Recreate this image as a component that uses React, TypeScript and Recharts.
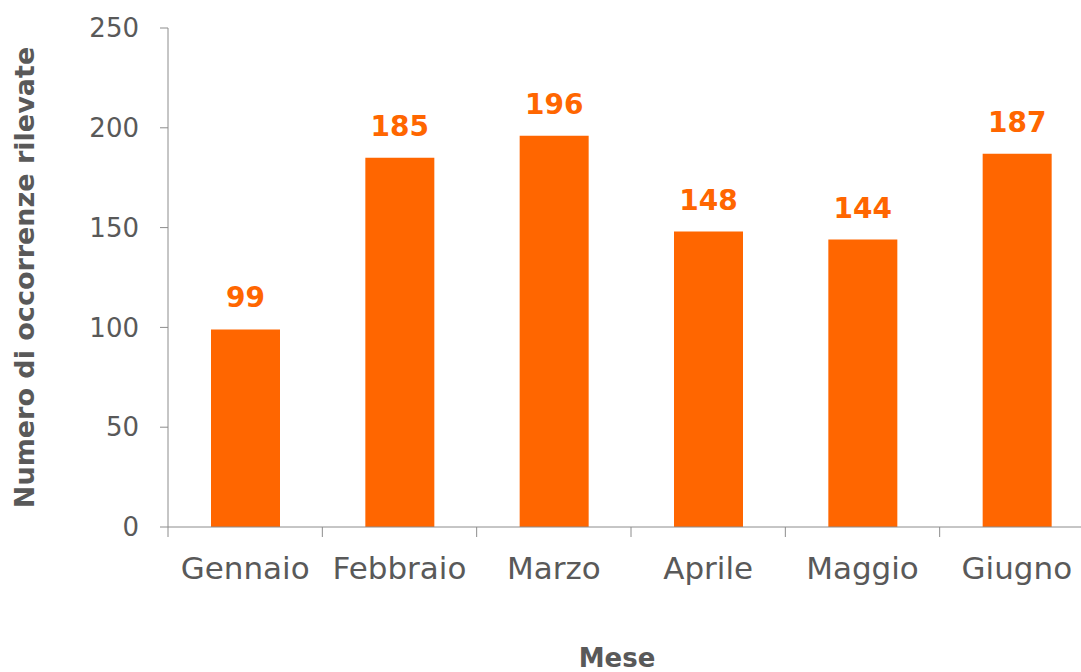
import { BarChart, Bar, XAxis, YAxis, LabelList } from "recharts";

const months = ["Gennaio", "Febbraio", "Marzo", "Aprile", "Maggio", "Giugno"];
const occurrences = [99, 185, 196, 148, 144, 187];
const yTicks = [0, 50, 100, 150, 200, 250];

const data = months.map((mese, i) => ({ mese, valore: occurrences[i] }));

const FONT = "'DejaVu Sans', sans-serif";
const GREY = "#595959";
const AXIS = "#8c8c8c";
const ORANGE = "#FF6600";
const BAND = (1094 - 168) / months.length;

// tick lines sit on the category boundaries, labels stay centred
function MonthTick({ x, y, payload }: any) {
  const left = x - BAND / 2;
  return (
    <g>
      <line x1={left} x2={left} y1={y - 2} y2={y + 8} stroke={AXIS} />
      <text x={x} y={y + 28} dy="0.71em" textAnchor="middle" fontSize={31} fill={GREY} fontFamily={FONT}>
        {payload.value}
      </text>
    </g>
  );
}

export default function App() {
  return (
    <div style={{ position: "absolute", left: 0, top: 0, width: 1081, height: 672, overflow: "hidden", background: "#fff" }}>
      <BarChart width={1100} height={672} data={data} margin={{ top: 28, right: 6, left: 0, bottom: 0 }}>
        <XAxis
          dataKey="mese"
          height={145}
          stroke={AXIS}
          tickLine={false}
          tickSize={0}
          tick={<MonthTick />}
          interval={0}
          label={{ value: "Mese", position: "insideBottom", offset: 5, dx: -14, fill: GREY, fontSize: 26, fontWeight: "bold", fontFamily: FONT }}
        />
        <YAxis
          domain={[0, 250]}
          ticks={yTicks}
          width={168}
          stroke={AXIS}
          tickSize={8}
          tickMargin={21}
          tick={{ fontSize: 26, fill: GREY, fontFamily: FONT }}
          label={{ value: "Numero di occorrenze rilevate", angle: -90, position: "insideLeft", offset: 24, fill: GREY, fontSize: 27, fontWeight: "bold", fontFamily: FONT, style: { textAnchor: "middle" } }}
        />
        <Bar dataKey="valore" fill={ORANGE} barSize={69} isAnimationActive={false}>
          <LabelList dataKey="valore" position="top" offset={22} fill={ORANGE} fontSize={28} fontWeight="bold" fontFamily={FONT} />
        </Bar>
      </BarChart>
    </div>
  );
}
